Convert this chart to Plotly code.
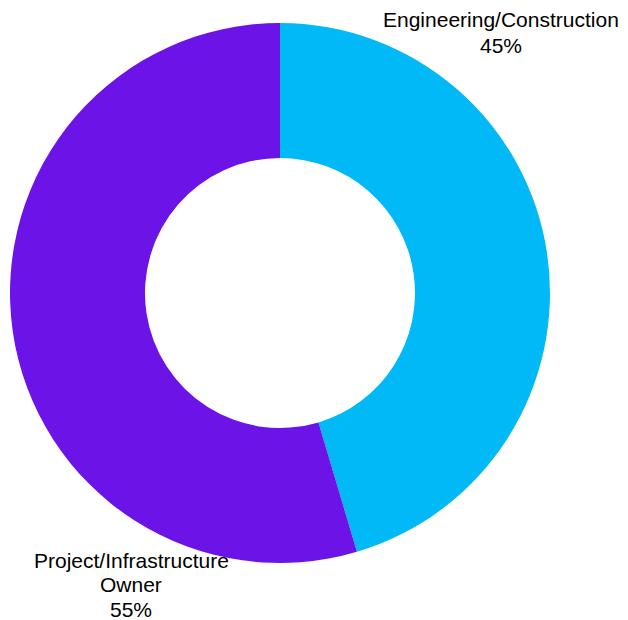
import plotly.graph_objects as go

labels = ["Engineering/Construction", "Project/Infrastructure<br>Owner"]
values = [45.4, 54.6]
colors = ["#00B9F6", "#6C14E8"]

W, H = 628, 620

def px_x(x):
    return x / W

def px_y(y):
    return 1 - y / H

fig = go.Figure(go.Pie(
    labels=labels,
    values=values,
    hole=0.5,
    sort=False,
    direction="clockwise",
    rotation=0,
    marker=dict(colors=colors, line=dict(width=0)),
    textinfo="none",
    hoverinfo="label+percent",
    domain=dict(x=[px_x(10), px_x(550)], y=[px_y(563), px_y(23)]),
    showlegend=False,
))

total = sum(values)
# centre x of each label block, and y of each text line
label_x = [501, 131]
label_line_y = [[20, 45], [560, 584, 609]]
annotations = []
for lab, v, lx, ys in zip(labels, values, label_x, label_line_y):
    lines = lab.split("<br>") + [f"{round(v / total * 100)}%"]
    for line, ly in zip(lines, ys):
        annotations.append(dict(
            text=line,
            x=px_x(lx), y=px_y(ly), xref="paper", yref="paper",
            xanchor="center", yanchor="middle", showarrow=False,
            font=dict(family="Liberation Sans, Arial, sans-serif", size=21, color="#000000"),
        ))

fig.update_layout(
    width=W, height=H,
    margin=dict(l=0, r=0, t=0, b=0),
    paper_bgcolor="white",
    plot_bgcolor="white",
    annotations=annotations,
)

fig.write_html(
    "out.html",
    config={"displayModeBar": False},
    post_script="document.body.style.margin='0';document.body.style.overflow='hidden';",
)
